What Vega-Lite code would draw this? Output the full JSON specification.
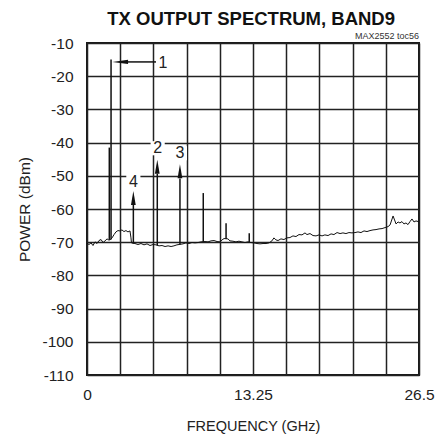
{
  "$schema": "https://vega.github.io/schema/vega-lite/v6.json",
  "width": 332,
  "height": 332,
  "autosize": "none",
  "padding": {"left": 87, "top": 43, "right": 29, "bottom": 65},
  "background": "white",
  "datasets": {
    "trace": [
      {"f":0,"p":-70.3},{"f":0.16,"p":-70.7},{"f":0.32,"p":-70.2},{"f":0.48,"p":-71.0},{"f":0.64,"p":-69.9},{"f":0.80,"p":-70.4},{"f":0.96,"p":-69.5},{"f":1.12,"p":-69.2},{"f":1.28,"p":-70.1},{"f":1.44,"p":-69.6},{"f":1.60,"p":-69.0},{"f":1.72,"p":-69.3},{"f":1.84,"p":-69.3},{"f":2.00,"p":-68.7},{"f":2.16,"p":-67.7},{"f":2.31,"p":-66.9},{"f":2.47,"p":-66.5},{"f":2.63,"p":-66.6},{"f":2.79,"p":-66.3},{"f":2.95,"p":-66.8},{"f":3.11,"p":-66.5},{"f":3.27,"p":-66.9},{"f":3.43,"p":-66.6},{"f":3.51,"p":-68.7},{"f":3.55,"p":-70.2},{"f":3.83,"p":-70.4},{"f":4.07,"p":-70.7},{"f":4.31,"p":-70.4},{"f":4.55,"p":-70.8},{"f":4.79,"p":-70.5},{"f":5.03,"p":-71.0},{"f":5.27,"p":-70.7},{"f":5.51,"p":-70.8},{"f":5.75,"p":-71.1},{"f":5.99,"p":-71.0},{"f":6.23,"p":-71.3},{"f":6.47,"p":-71.1},{"f":6.71,"p":-71.3},{"f":6.94,"p":-71.1},{"f":7.18,"p":-70.8},{"f":7.66,"p":-70.5},{"f":7.90,"p":-70.2},{"f":8.14,"p":-70.4},{"f":8.38,"p":-70.1},{"f":8.62,"p":-70.2},{"f":8.86,"p":-70.1},{"f":9.10,"p":-69.9},{"f":9.42,"p":-69.8},{"f":9.66,"p":-69.9},{"f":9.90,"p":-69.6},{"f":10.14,"p":-69.5},{"f":10.38,"p":-69.8},{"f":10.62,"p":-69.9},{"f":10.78,"p":-69.3},{"f":10.94,"p":-68.9},{"f":11.25,"p":-69.0},{"f":11.41,"p":-69.6},{"f":11.65,"p":-69.7},{"f":11.89,"p":-69.9},{"f":12.13,"p":-69.7},{"f":12.37,"p":-69.9},{"f":12.61,"p":-70.1},{"f":12.85,"p":-69.9},{"f":13.09,"p":-70.1},{"f":13.33,"p":-70.2},{"f":13.57,"p":-70.4},{"f":13.81,"p":-70.5},{"f":14.05,"p":-70.4},{"f":14.29,"p":-70.4},{"f":14.53,"p":-70.2},{"f":14.76,"p":-69.6},{"f":14.92,"p":-68.7},{"f":15.08,"p":-69.3},{"f":15.25,"p":-69.5},{"f":15.48,"p":-69.0},{"f":15.72,"p":-69.2},{"f":15.96,"p":-68.7},{"f":16.20,"p":-68.6},{"f":16.44,"p":-68.1},{"f":16.68,"p":-68.3},{"f":16.92,"p":-67.7},{"f":17.16,"p":-67.8},{"f":17.40,"p":-67.2},{"f":17.56,"p":-67.7},{"f":17.80,"p":-67.4},{"f":18.04,"p":-68.0},{"f":18.28,"p":-68.1},{"f":18.52,"p":-67.8},{"f":18.76,"p":-68.1},{"f":18.99,"p":-67.8},{"f":19.24,"p":-68.0},{"f":19.48,"p":-67.5},{"f":19.71,"p":-67.7},{"f":19.96,"p":-67.1},{"f":20.20,"p":-67.4},{"f":20.43,"p":-67.2},{"f":20.67,"p":-67.4},{"f":20.91,"p":-67.1},{"f":21.15,"p":-67.2},{"f":21.39,"p":-67.1},{"f":21.63,"p":-66.9},{"f":21.87,"p":-67.1},{"f":22.11,"p":-66.6},{"f":22.35,"p":-66.8},{"f":22.59,"p":-66.5},{"f":22.83,"p":-66.3},{"f":23.07,"p":-66.2},{"f":23.31,"p":-66.0},{"f":23.55,"p":-65.9},{"f":23.79,"p":-65.6},{"f":24.03,"p":-65.3},{"f":24.19,"p":-64.8},{"f":24.35,"p":-63.0},{"f":24.43,"p":-62.1},{"f":24.55,"p":-63.3},{"f":24.67,"p":-64.5},{"f":24.83,"p":-63.9},{"f":24.98,"p":-64.2},{"f":25.14,"p":-63.8},{"f":25.30,"p":-64.5},{"f":25.46,"p":-64.2},{"f":25.62,"p":-64.7},{"f":25.78,"p":-63.8},{"f":25.94,"p":-63.0},{"f":26.10,"p":-63.9},{"f":26.26,"p":-63.6},{"f":26.46,"p":-63.8}
    ],
    "spikes": [
      {"f":1.78,"lo":-69.3,"hi":-41.5},
      {"f":1.92,"lo":-69.2,"hi":-15.0},
      {"f":9.28,"lo":-69.9,"hi":-55.2},
      {"f":11.10,"lo":-69.0,"hi":-64.3},
      {"f":12.95,"lo":-70.0,"hi":-67.3}
    ],
    "arrows": [
      {"label":"4","f":3.70,"floor":-70.4,"base":-58.8,"head":-56.7},
      {"label":"2","f":5.61,"floor":-71.0,"base":-49.4,"head":-47.3},
      {"label":"3","f":7.42,"floor":-70.7,"base":-50.8,"head":-48.6}
    ],
    "arrow1": [
      {"label":"1","f1":3.27,"f2":5.67,"p":-15.7,"head":2.65}
    ],
    "labels": [
      {"t":"1","f":6.07,"p":-15.9},
      {"t":"2","f":5.64,"p":-41.7},
      {"t":"3","f":7.42,"p":-43.2},
      {"t":"4","f":3.70,"p":-51.8}
    ],
    "heading": [
      {"t":"TX OUTPUT SPECTRUM, BAND9","f":13.1,"p":-10}
    ],
    "note": [
      {"t":"MAX2552 toc56","f":26.5,"p":-10}
    ]
  },
  "encoding": {
    "x": {
      "type": "quantitative",
      "scale": {"domain": [0, 26.5], "nice": false, "zero": false},
      "axis": {
        "title": "FREQUENCY (GHz)",
        "titleFontSize": 14.5,
        "values": [0, 2.65, 5.3, 7.95, 10.6, 13.25, 15.9, 18.55, 21.2, 23.85, 26.5],
        "labelExpr": "datum.value == 0 ? '0' : (abs(datum.value - 13.25) < 0.001 ? '13.25' : (abs(datum.value - 26.5) < 0.001 ? '26.5' : ''))",
        "labelFlush": false,
        "ticks": false,
        "domain": false,
        "labelPadding": 12,
        "titlePadding": 17
      }
    },
    "y": {
      "type": "quantitative",
      "scale": {"domain": [-110, -10], "nice": false, "zero": false},
      "axis": {
        "title": "POWER (dBm)",
        "titleFontSize": 15.5,
        "values": [-110, -100, -90, -80, -70, -60, -50, -40, -30, -20, -10],
        "labelExpr": "toString(datum.value)",
        "ticks": false,
        "domain": false,
        "labelPadding": 14,
        "titlePadding": 9
      }
    }
  },
  "layer": [
    {
      "data": {"name": "trace"},
      "mark": {"type": "line", "color": "#111", "strokeWidth": 1, "interpolate": "linear"},
      "encoding": {"x": {"field": "f"}, "y": {"field": "p"}}
    },
    {
      "data": {"name": "spikes"},
      "mark": {"type": "rule", "color": "#111", "strokeWidth": 1.5},
      "encoding": {"x": {"field": "f"}, "y": {"field": "lo"}, "y2": {"field": "hi"}}
    },
    {
      "data": {"name": "arrows"},
      "mark": {"type": "rule", "color": "#111", "strokeWidth": 1.5},
      "encoding": {"x": {"field": "f"}, "y": {"field": "floor"}, "y2": {"field": "base"}}
    },
    {
      "data": {"name": "arrows"},
      "mark": {"type": "point", "filled": true, "color": "#111", "opacity": 1, "size": 196, "strokeWidth": 0, "shape": "M0,-1L0.34,1L-0.34,1Z"},
      "encoding": {"x": {"field": "f"}, "y": {"field": "head"}}
    },
    {
      "data": {"name": "arrow1"},
      "mark": {"type": "rule", "color": "#111", "strokeWidth": 1.5},
      "encoding": {"x": {"field": "f1"}, "x2": {"field": "f2"}, "y": {"field": "p"}}
    },
    {
      "data": {"name": "arrow1"},
      "mark": {"type": "point", "filled": true, "color": "#111", "opacity": 1, "size": 246, "strokeWidth": 0, "shape": "M-1,0L1,-0.27L1,0.27Z"},
      "encoding": {"x": {"field": "head"}, "y": {"field": "p"}}
    },
    {
      "data": {"name": "labels"},
      "mark": {"type": "point", "filled": true, "color": "white", "opacity": 1, "size": 200, "shape": "square", "strokeWidth": 0},
      "encoding": {"x": {"field": "f"}, "y": {"field": "p"}}
    },
    {
      "data": {"name": "labels"},
      "mark": {"type": "text", "font": "Liberation Sans", "fontSize": 16, "color": "#222", "align": "center", "baseline": "middle"},
      "encoding": {"x": {"field": "f"}, "y": {"field": "p"}, "text": {"field": "t"}}
    },
    {
      "data": {"name": "heading"},
      "mark": {"type": "text", "font": "Liberation Sans", "fontSize": 18.5, "fontWeight": "bold", "color": "#111", "align": "center", "baseline": "alphabetic", "dy": -18},
      "encoding": {"x": {"field": "f"}, "y": {"field": "p"}, "text": {"field": "t"}}
    },
    {
      "data": {"name": "note"},
      "mark": {"type": "text", "font": "Liberation Sans", "fontSize": 9, "color": "#333", "align": "right", "baseline": "alphabetic", "dy": -4},
      "encoding": {"x": {"field": "f"}, "y": {"field": "p"}, "text": {"field": "t"}}
    }
  ],
  "config": {
    "view": {"stroke": "#1a1a1a", "strokeWidth": 2},
    "axis": {
      "grid": true,
      "gridColor": "#222",
      "gridWidth": 1.5,
      "gridOpacity": 1,
      "labelFont": "Liberation Sans",
      "labelFontSize": 15.5,
      "labelColor": "#222",
      "titleFont": "Liberation Sans",
      "titleFontWeight": "normal",
      "titleColor": "#222"
    }
  }
}
